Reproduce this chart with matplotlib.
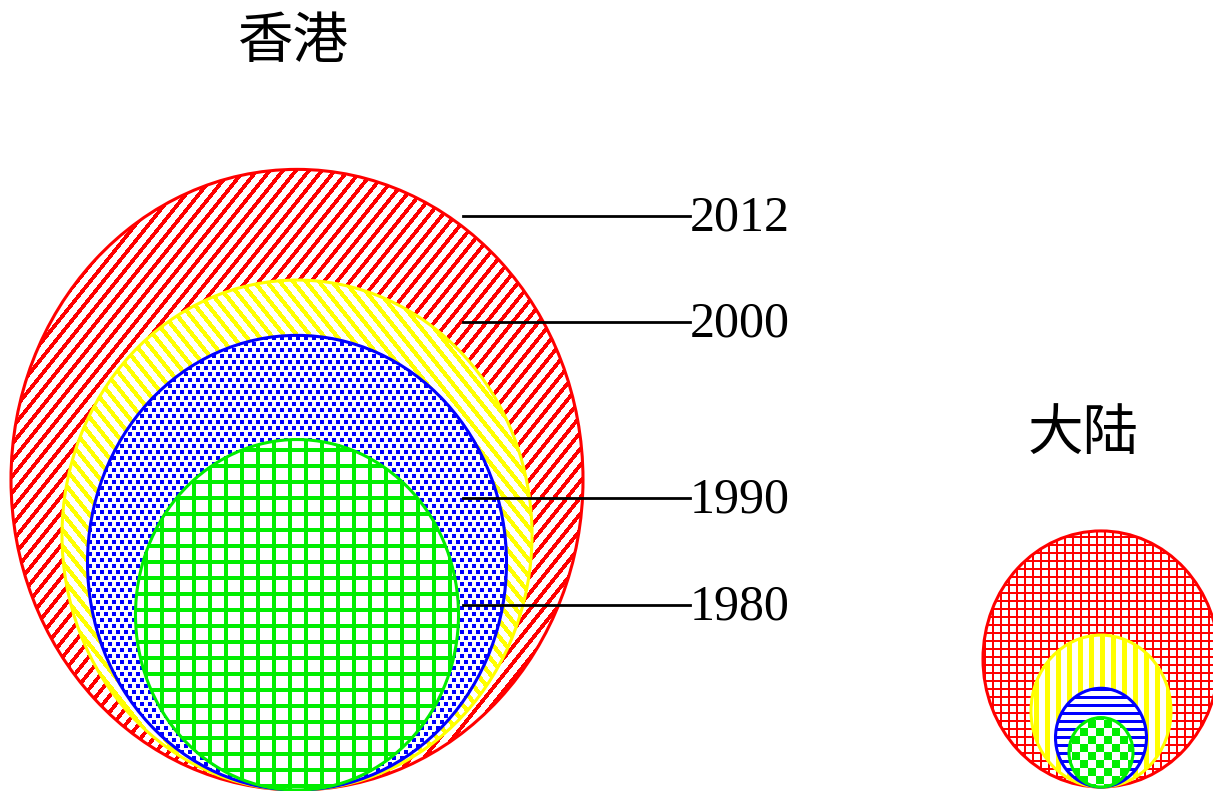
import numpy as np
import matplotlib
matplotlib.use("Agg")
import matplotlib.pyplot as plt
from matplotlib.patches import Ellipse
from matplotlib.colors import to_rgba

plt.rcParams['font.family'] = ['Noto Sans CJK SC', 'DejaVu Sans']

# data: circle sizes (diameters), smallest first
years = ['1980', '1990', '2000', '2012']
hk_size = [323, 419, 470, 572]
ml_size = [64, 91, 140, 236]
label_y = [605, 498, 322, 216]

# styles
stretch = 1.085
GREEN = '#00ee00'
colors = [GREEN, 'blue', 'yellow', 'red']

# fill patterns as functions of pixel position
hk_fill = [
    lambda x, y: (x % 16 < 4) | (y % 16 < 4),                       # grid
    lambda x, y: ((x + (y // 6 % 2) * 4) % 8 < 4) & (y % 6 < 4),     # dots
    lambda x, y: (x - 0.8 * y) % 13 < 5.5,                          # \\\
    lambda x, y: (x + 0.8 * y) % 13 < 5,                            # ///
]
ml_fill = [
    lambda x, y: (x // 8 + y // 8) % 2 == 0,                        # checks
    lambda x, y: y % 8 < 3,                                          # ---
    lambda x, y: x % 11 < 5,                                         # |||
    lambda x, y: (x % 8 < 2) | (y % 8 < 2),                          # fine grid
]

fig = plt.figure(figsize=(12.13, 7.91), dpi=100)
ax = fig.add_axes([0, 0, 1, 1])


def nested(cx, bottom, sizes, fills):
    for i in range(len(sizes) - 1, -1, -1):
        w = sizes[i]
        h = w * stretch
        z = 10 - 2 * i
        e = Ellipse((cx, bottom - h / 2), w, h, facecolor='white',
                    edgecolor='none', zorder=z)
        ax.add_patch(e)
        x0, x1 = int(cx - w / 2) - 2, int(cx + w / 2) + 3
        y0, y1 = int(bottom - h) - 2, int(bottom) + 3
        yy, xx = np.mgrid[y0:y1, x0:x1]
        mask = fills[i](xx, yy)
        rgba = np.zeros(mask.shape + (4,))
        rgba[mask] = to_rgba(colors[i])
        im = ax.imshow(rgba, extent=(x0, x1, y1, y0), interpolation='nearest',
                       zorder=z + 0.5)
        im.set_clip_path(e)
        ax.add_patch(Ellipse(e.center, w, h, facecolor='none',
                             edgecolor=colors[i], lw=2.2, zorder=z + 0.8))


nested(297, 790, hk_size, hk_fill)
nested(1101, 787, ml_size, ml_fill)

ax.set_xlim(0, 1213)
ax.set_ylim(791, 0)
ax.set_aspect('auto')
ax.axis('off')

# leader lines and year labels
for yr, y in zip(years, label_y):
    ax.plot([463, 690], [y, y], color='black', lw=2, zorder=30)
    ax.text(690, y + 2, yr, fontsize=36, family='Liberation Serif',
            va='center', ha='left', zorder=30)

ax.text(293, 42, '香港', fontsize=40, ha='center', va='center')
ax.text(1083, 434, '大陆', fontsize=40, ha='center', va='center')

fig.savefig('out.png', dpi=100)
